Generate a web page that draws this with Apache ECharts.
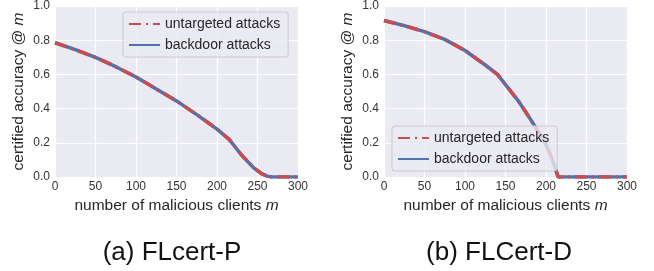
<!DOCTYPE html>
<html>
<head>
<meta charset="utf-8">
<script src="https://cdn.jsdelivr.net/npm/echarts@6/dist/echarts.min.js"></script>
<style>
  html, body { margin: 0; padding: 0; background: #fff; }
  #chart { width: 654px; height: 271px; }
</style>
</head>
<body>
<div id="chart"></div>
<script>
// values
var clientsP = [0, 25, 50, 75, 100, 125, 150, 175, 200, 215, 230, 245, 255, 262, 268, 300];
var untargetedP = [0.785, 0.745, 0.70, 0.645, 0.585, 0.515, 0.445, 0.365, 0.28, 0.22, 0.13, 0.055, 0.02, 0.005, 0, 0];
var backdoorP = [0.785, 0.745, 0.70, 0.645, 0.585, 0.515, 0.445, 0.365, 0.28, 0.22, 0.13, 0.055, 0.02, 0.005, 0, 0];

var clientsD = [0, 25, 50, 75, 100, 125, 140, 150, 165, 175, 190, 200, 208, 215, 300];
var untargetedD = [0.915, 0.885, 0.85, 0.805, 0.74, 0.655, 0.60, 0.54, 0.45, 0.38, 0.27, 0.19, 0.10, 0, 0];
var backdoorD = [0.915, 0.885, 0.85, 0.805, 0.74, 0.655, 0.60, 0.54, 0.45, 0.38, 0.27, 0.19, 0.10, 0, 0];

var captions = ['(a) FLcert-P', '(b) FLCert-D'];

var red = '#c44e52', blue = '#4c72b0';
var font = 'Liberation Sans, Arial, sans-serif';

function pairs(xs, ys) {
  return xs.map(function (x, i) { return [x, ys[i]]; });
}

var nameRich = {
  t: { fontSize: 15.5, color: '#262626', fontFamily: font },
  i: { fontSize: 15.5, color: '#262626', fontFamily: font, fontStyle: 'italic' }
};

function xAxis(idx) {
  return {
    gridIndex: idx, type: 'value', min: 0, max: 300, interval: 50,
    name: '{t|number of malicious clients }{i|m}',
    nameLocation: 'middle', nameGap: 16,
    nameTextStyle: { rich: nameRich },
    axisLine: { show: false }, axisTick: { show: false },
    axisLabel: { fontSize: 12, color: '#333', fontFamily: font, margin: 4 },
    splitLine: { lineStyle: { color: '#fff', width: 1.2 } }
  };
}

function yAxis(idx) {
  return {
    gridIndex: idx, type: 'value', min: 0, max: 1, interval: 0.2,
    name: '{t|certified accuracy @ }{i|m}',
    nameLocation: 'middle', nameGap: 28,
    nameTextStyle: { rich: nameRich },
    axisLine: { show: false }, axisTick: { show: false },
    axisLabel: { fontSize: 12, color: '#333', fontFamily: font, margin: 5,
      formatter: function (v) { return v.toFixed(1); } },
    splitLine: { lineStyle: { color: '#fff', width: 1.2 } }
  };
}

function legend(pos) {
  var l = {
    data: [
      { name: 'untargeted attacks', itemStyle: { opacity: 0 } },
      { name: 'backdoor attacks', itemStyle: { opacity: 0 } }
    ],
    orient: 'vertical', itemWidth: 31, itemHeight: 10, itemGap: 7,
    padding: [5, 8, 5, 5],
    backgroundColor: 'rgba(234,234,242,0.8)', borderColor: '#cccccc', borderWidth: 1, borderRadius: 3,
    textStyle: { fontSize: 14, color: '#262626', fontFamily: font }
  };
  for (var k in pos) l[k] = pos[k];
  return l;
}

function series(name, idx, data, color, dashed, z) {
  return {
    name: name, type: 'line', xAxisIndex: idx, yAxisIndex: idx,
    data: data, showSymbol: false, symbol: 'none', z: z,
    lineStyle: { color: color, width: 3.5, type: dashed ? [12, 5, 2, 5] : 'solid' },
    itemStyle: { color: color }
  };
}

var chart = echarts.init(document.getElementById('chart'), null, { renderer: 'canvas' });
chart.setOption({
  animation: false,
  backgroundColor: '#fff',
  grid: [
    { left: 55, top: 5, width: 243, height: 172, show: true, backgroundColor: '#eaeaf2', borderWidth: 0 },
    { left: 384, top: 5, width: 243, height: 172, show: true, backgroundColor: '#eaeaf2', borderWidth: 0 }
  ],
  xAxis: [xAxis(0), xAxis(1)],
  yAxis: [yAxis(0), yAxis(1)],
  legend: [
    legend({ left: 123, top: 12 }),
    legend({ left: 392, top: 126 })
  ],
  title: [
    { text: captions[0], left: 167, top: 235, textAlign: 'center',
      textStyle: { fontSize: 26, fontWeight: 'normal', color: '#111', fontFamily: font } },
    { text: captions[1], left: 494, top: 235, textAlign: 'center',
      textStyle: { fontSize: 26, fontWeight: 'normal', color: '#111', fontFamily: font } }
  ],
  series: [
    series('backdoor attacks', 0, pairs(clientsP, backdoorP), blue, false, 2),
    series('untargeted attacks', 0, pairs(clientsP, untargetedP), red, true, 3),
    series('backdoor attacks', 1, pairs(clientsD, backdoorD), blue, false, 2),
    series('untargeted attacks', 1, pairs(clientsD, untargetedD), red, true, 3)
  ]
});
</script>
</body>
</html>
